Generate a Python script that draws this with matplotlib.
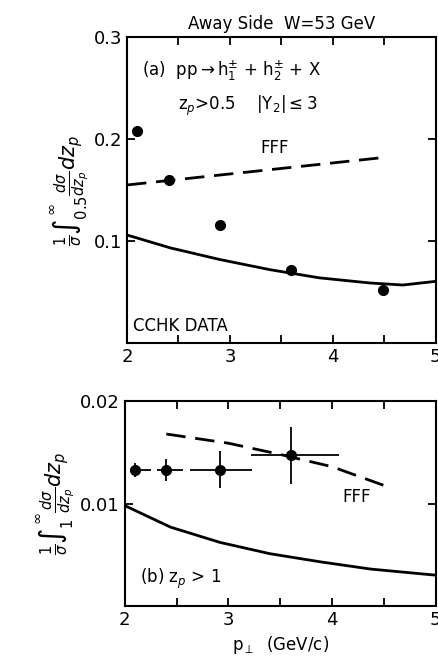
import matplotlib
matplotlib.use("Agg")
import matplotlib.pyplot as plt
import numpy as np

plt.rcParams['font.family'] = ['DejaVu Sans']
plt.rcParams['mathtext.fontset'] = 'dejavusans'

# panel (a): integral z_p > 0.5
a_pt = [2.1, 2.41, 2.9, 3.59, 4.49]
a_val = [0.208, 0.160, 0.116, 0.072, 0.052]
a_th_x = [2.0, 2.42, 2.9, 3.39, 3.87, 4.36, 4.68, 5.0]
a_th_y = [0.106, 0.0934, 0.082, 0.072, 0.064, 0.059, 0.057, 0.0606]
a_fff_x = [2.0, 4.5]
a_fff_y = [0.155, 0.182]

# panel (b): integral z_p > 1
b_pt = [2.1, 2.4, 2.92, 3.6]
b_val = [0.0133, 0.0133, 0.0133, 0.0147]
b_yerr = [0.0007, 0.0011, 0.0018, 0.0028]
b_xlo = [2.06, 2.31, 2.63, 3.22]
b_xhi = [2.25, 2.56, 3.23, 4.07]
b_th_x = [2.0, 2.44, 2.92, 3.40, 3.89, 4.37, 5.0]
b_th_y = [0.0098, 0.0077, 0.0062, 0.0051, 0.0043, 0.0036, 0.0030]
b_fff_x = [2.4, 3.0, 3.5, 4.0, 4.52]
b_fff_y = [0.0168, 0.0159, 0.0148, 0.0136, 0.0117]

fig = plt.figure(figsize=(4.38, 6.60), dpi=100)
ax1 = fig.add_axes([0.290, 0.480, 0.705, 0.464])
ax2 = fig.add_axes([0.285, 0.082, 0.710, 0.310])

for ax in (ax1, ax2):
    ax.set_xlim(2, 5)
    ax.set_xticks([2, 3, 4, 5])
    ax.set_xticks([2.5, 3.5, 4.5], minor=True)
    ax.tick_params(which='both', direction='in', top=True, right=True,
                   length=6, width=1.3, labelsize=13)
    for s in ax.spines.values():
        s.set_linewidth(1.5)

# top panel
ax1.set_ylim(0, 0.3)
ax1.set_yticks([0.1, 0.2, 0.3])
ax1.set_yticklabels(['0.1', '0.2', '0.3'])
ax1.plot(a_pt, a_val, 'o', color='black', ms=7)
ax1.plot(a_th_x, a_th_y, '-', color='black', lw=2)
ax1.plot(a_fff_x, a_fff_y, '--', color='black', lw=2, dashes=(7, 3.5))
ax1.text(3.3, 0.186, 'FFF', fontsize=12)
ax1.text(2.15, 0.262, r'(a)  pp$\rightarrow$h$_1^{\pm}$ + h$_2^{\pm}$ + X', fontsize=12)
ax1.text(2.5, 0.228, r'z$_p$>0.5    |Y$_2$|$\leq$3', fontsize=12)
ax1.text(2.06, 0.012, 'CCHK DATA', fontsize=12)
ax1.set_ylabel(r'$\frac{1}{\sigma}\int_{0.5}^{\infty}\frac{d\sigma}{dz_p}dz_p$',
               fontsize=15, labelpad=2)
ax1.set_title('Away Side  W=53 GeV', fontsize=12, pad=6)

# bottom panel
ax2.set_ylim(0, 0.02)
ax2.set_yticks([0.01, 0.02])
ax2.set_yticklabels(['0.01', '0.02'])
xerr = [np.array(b_pt) - np.array(b_xlo), np.array(b_xhi) - np.array(b_pt)]
ax2.errorbar(b_pt, b_val, yerr=b_yerr, xerr=xerr, fmt='o', color='black',
             ms=7, elinewidth=1.3, capsize=0)
ax2.plot(b_th_x, b_th_y, '-', color='black', lw=2)
ax2.plot(b_fff_x, b_fff_y, '--', color='black', lw=2, dashes=(7, 3.5))
ax2.text(4.1, 0.0102, 'FFF', fontsize=12)
ax2.text(2.15, 0.0022, r'(b) z$_p$ > 1', fontsize=12)
ax2.set_ylabel(r'$\frac{1}{\sigma}\int_{1}^{\infty}\frac{d\sigma}{dz_p}dz_p$',
               fontsize=15, labelpad=2)
ax2.set_xlabel(r'p$_\perp$  (GeV/c)', fontsize=12)

fig.savefig('out.png', dpi=100)
